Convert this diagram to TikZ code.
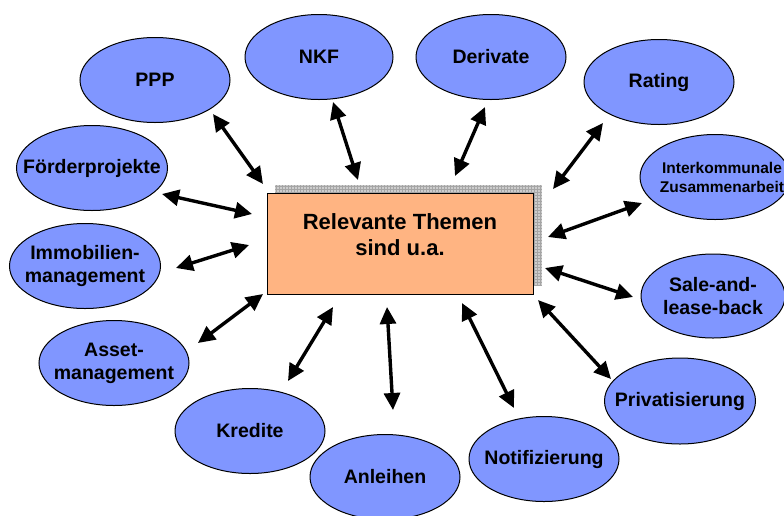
\documentclass[tikz,border=0pt]{standalone}
\usepackage{fontspec}
\setmainfont{Liberation Sans}
\usetikzlibrary{shapes.geometric,arrows.meta}
\definecolor{ellfill}{RGB}{128,150,255}
\definecolor{boxfill}{RGB}{255,180,130}
\definecolor{shadowfill}{RGB}{205,205,205}
\definecolor{shadowgrid}{RGB}{165,165,165}
\tikzset{
  topic/.style={ellipse,draw=black,line width=1pt,fill=ellfill,minimum width=150pt,minimum height=85pt,inner sep=0pt},
  topictext/.style={font=\fontsize{19.5}{23}\selectfont\bfseries,align=center,inner sep=0pt},
  smalltext/.style={font=\fontsize{15.5}{19}\selectfont\bfseries,align=center,inner sep=0pt},
  link/.style={line width=3.4pt,{Triangle[length=17pt,width=16pt]}-{Triangle[length=17pt,width=16pt]}},
}
\begin{document}
\begin{tikzpicture}[x=1pt,y=-1pt]
\useasboundingbox (0,0) rectangle (784,515);
% central box with grid shadow
\fill[shadowfill] (275,185) rectangle (542,286);
\begin{scope}
\clip (275,185) rectangle (542,286);
\draw[shadowgrid,line width=0.4pt,step=3pt] (275,185) grid (542,286);
\end{scope}
\node[draw=black,line width=1pt,fill=boxfill,minimum width=266pt,minimum height=101pt,inner sep=0pt,anchor=north west] (box) at (267,193) {};
\node[font=\fontsize{22}{26}\selectfont\bfseries,align=center,inner sep=0pt] (boxt) at (400,235) {Relevante Themen\\sind u.a.};
% ellipses
\node[topic] (ppp) at (155,80) {};
\node[topictext] (ppp-t) at (ppp) {PPP};
\node[topic,minimum width=148pt] (nkf) at (319,57) {};
\node[topictext] (nkf-t) at (nkf) {NKF};
\node[topic] (der) at (491,57) {};
\node[topictext] (der-t) at (der) {Derivate};
\node[topic] (rat) at (659,82) {};
\node[topictext] (rat-t) at (rat) {Rating};
\node[topic] (ikz) at (715,177) {};
\node[smalltext] (ikz-t) at (722,177) {Interkommunale\\Zusammenarbeit};
\node[topic,minimum width=144pt,minimum height=84pt] (sal) at (713,296) {};
\node[topictext] (sal-t) at (sal) {Sale-and-\\lease-back};
\node[topic,minimum width=151pt,minimum height=86pt] (pri) at (680,401) {};
\node[topictext] (pri-t) at (pri) {Privatisierung};
\node[topic] (not) at (544,459) {};
\node[topictext] (not-t) at (not) {Notifizierung};
\node[topic] (anl) at (385,477) {};
\node[topictext] (anl-t) at (anl) {Anleihen};
\node[topic] (kre) at (250,431) {};
\node[topictext] (kre-t) at (kre) {Kredite};
\node[topic] (ass) at (114,363) {};
\node[topictext] (ass-t) at (ass) {Asset-\\management};
\node[topic,minimum width=151pt] (imm) at (85,266) {};
\node[topictext] (imm-t) at (imm) {Immobilien-\\management};
\node[topic,minimum width=151pt] (foe) at (92,168) {};
\node[topictext] (foe-t) at (foe) {Förderprojekte};
% arrow end points
\coordinate (ppp-a) at (213,114); \coordinate (ppp-b) at (263,184);
\coordinate (nkf-a) at (333,102); \coordinate (nkf-b) at (358,180);
\coordinate (der-a) at (485,107); \coordinate (der-b) at (455,176);
\coordinate (rat-a) at (603,123); \coordinate (rat-b) at (553,189);
\coordinate (ikz-a) at (642,203); \coordinate (ikz-b) at (548,237);
\coordinate (sal-a) at (633,297); \coordinate (sal-b) at (545,268);
\coordinate (pri-a) at (611,379); \coordinate (pri-b) at (538,300);
\coordinate (not-a) at (514,408); \coordinate (not-b) at (462,303);
\coordinate (anl-a) at (393,410); \coordinate (anl-b) at (387,307);
\coordinate (kre-a) at (288,381); \coordinate (kre-b) at (333,307);
\coordinate (ass-a) at (198,343); \coordinate (ass-b) at (263,294);
\coordinate (imm-a) at (176,268); \coordinate (imm-b) at (249,245);
\coordinate (foe-a) at (162,194); \coordinate (foe-b) at (252,214);
\foreach \n in {ppp,nkf,der,rat,ikz,sal,pri,not,anl,kre,ass,imm,foe}
  \draw[link] (\n-a) -- (\n-b);
\end{tikzpicture}
\end{document}
